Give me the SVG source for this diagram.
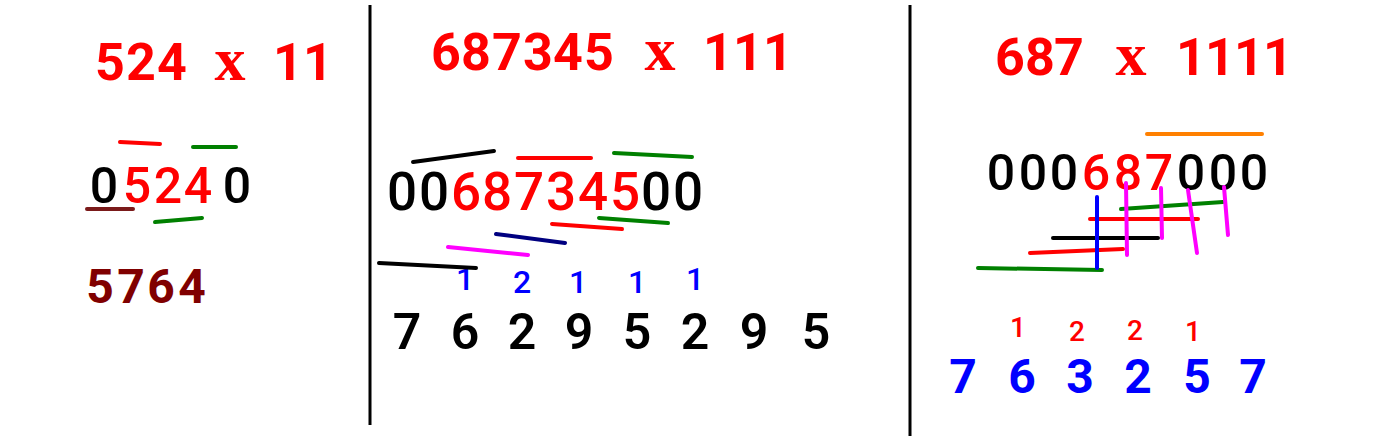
<svg xmlns="http://www.w3.org/2000/svg" width="1379" height="439" viewBox="0 0 1379 439">
<style>
.t{font-family:Roboto,"Liberation Sans",Arial,sans-serif;font-weight:bold;text-anchor:middle}
.x{font-family:"Liberation Serif","Times New Roman",serif;font-weight:bold;text-anchor:middle}
.n{font-family:Roboto,"Liberation Sans",Arial,sans-serif;font-weight:500;text-anchor:middle}
.s{stroke-width:4;stroke-linecap:round;fill:none}
.red{fill:#ff0000}.blk{fill:#000}.blu{fill:#0000ff}.drd{fill:#800000}
</style>
<rect width="1379" height="439" fill="#fff"/>
<g id="dividers" stroke="#000" stroke-width="3">
<line x1="370" y1="5" x2="370" y2="425"/>
<line x1="910" y1="5" x2="910" y2="436"/>
</g>
<g id="panel1">
<text class="t red" y="80" font-size="52"><tspan x="110">5</tspan><tspan x="141">2</tspan><tspan x="172">4</tspan></text>
<text class="x red" x="230" y="80" font-size="62">x</text>
<text class="t red" y="80" font-size="52"><tspan x="288">1</tspan><tspan x="318">1</tspan></text>
<text class="n" y="203" font-size="50"><tspan class="blk" x="104">0</tspan><tspan class="red" x="137">5</tspan><tspan class="red" x="168">2</tspan><tspan class="red" x="198">4</tspan><tspan class="blk" x="237">0</tspan></text>
<text class="t drd" y="303" font-size="48"><tspan x="100">5</tspan><tspan x="131">7</tspan><tspan x="161">6</tspan><tspan x="192">4</tspan></text>
</g>
<g id="panel2">
<text class="t red" y="70" font-size="52"><tspan x="446">6</tspan><tspan x="476">8</tspan><tspan x="507">7</tspan><tspan x="538">3</tspan><tspan x="568">4</tspan><tspan x="599">5</tspan></text>
<text class="x red" x="660" y="70" font-size="62">x</text>
<text class="t red" y="70" font-size="52"><tspan x="718">1</tspan><tspan x="748">1</tspan><tspan x="778">1</tspan></text>
<text class="n" y="210" font-size="53"><tspan class="blk" x="402">0</tspan><tspan class="blk" x="434">0</tspan><tspan class="red" x="466">6</tspan><tspan class="red" x="497">8</tspan><tspan class="red" x="529">7</tspan><tspan class="red" x="561">3</tspan><tspan class="red" x="593">4</tspan><tspan class="red" x="625">5</tspan><tspan class="blk" x="656">0</tspan><tspan class="blk" x="688">0</tspan></text>
<text class="n blu" font-size="32"><tspan x="465" y="290">1</tspan><tspan x="522" y="293">2</tspan><tspan x="578" y="293">1</tspan><tspan x="637" y="293">1</tspan><tspan x="695" y="290">1</tspan></text>
<text class="t blk" y="349" font-size="50" style="font-weight:600"><tspan x="407">7</tspan><tspan x="465">6</tspan><tspan x="522">2</tspan><tspan x="579">9</tspan><tspan x="637">5</tspan><tspan x="695">2</tspan><tspan x="754">9</tspan><tspan x="816">5</tspan></text>
</g>
<g id="panel3">
<text class="t red" y="75" font-size="52"><tspan x="1010">6</tspan><tspan x="1040">8</tspan><tspan x="1069">7</tspan></text>
<text class="x red" x="1131" y="75" font-size="62">x</text>
<text class="t red" y="75" font-size="52"><tspan x="1191">1</tspan><tspan x="1220">1</tspan><tspan x="1249">1</tspan><tspan x="1278">1</tspan></text>
<text class="n" y="190" font-size="50"><tspan class="blk" x="1001">0</tspan><tspan class="blk" x="1033">0</tspan><tspan class="blk" x="1064">0</tspan><tspan class="red" x="1096">6</tspan><tspan class="red" x="1128">8</tspan><tspan class="red" x="1159">7</tspan><tspan class="blk" x="1191">0</tspan><tspan class="blk" x="1223">0</tspan><tspan class="blk" x="1254">0</tspan></text>
<text class="n red" font-size="28"><tspan x="1018" y="337">1</tspan><tspan x="1077" y="341">2</tspan><tspan x="1135" y="340">2</tspan><tspan x="1193" y="341">1</tspan></text>
<text class="t blu" y="393" font-size="48"><tspan x="963">7</tspan><tspan x="1022">6</tspan><tspan x="1080">3</tspan><tspan x="1138">2</tspan><tspan x="1197">5</tspan><tspan x="1253">7</tspan></text>
</g>
<g id="connectors">
<line class="s" stroke="#ff0000" x1="120" y1="142" x2="160" y2="144"/>
<line class="s" stroke="#008000" x1="193" y1="147" x2="236" y2="147"/>
<line class="s" stroke="#7a1a1a" x1="87" y1="209" x2="133" y2="209"/>
<line class="s" stroke="#008000" x1="155" y1="222" x2="202" y2="218"/>
<line class="s" stroke="#000" x1="413" y1="162" x2="494" y2="151"/>
<line class="s" stroke="#ff0000" x1="518" y1="158" x2="591" y2="158"/>
<line class="s" stroke="#008000" x1="614" y1="153" x2="692" y2="157"/>
<line class="s" stroke="#008000" x1="599" y1="218" x2="668" y2="223"/>
<line class="s" stroke="#ff0000" x1="552" y1="224" x2="622" y2="229"/>
<line class="s" stroke="#000080" x1="496" y1="234" x2="565" y2="243"/>
<line class="s" stroke="#ff00ff" x1="448" y1="247" x2="528" y2="255"/>
<line class="s" stroke="#000" x1="379" y1="263" x2="476" y2="268"/>
<line class="s" stroke="#ff8000" x1="1147" y1="134" x2="1262" y2="134"/>
<line class="s" stroke="#008000" x1="978" y1="268" x2="1102" y2="270"/>
<line class="s" stroke="#ff0000" x1="1030" y1="253" x2="1123" y2="249"/>
<line class="s" stroke="#000" x1="1053" y1="238" x2="1158" y2="238"/>
<line class="s" stroke="#ff0000" x1="1090" y1="219" x2="1198" y2="219"/>
<line class="s" stroke="#008000" x1="1121" y1="209" x2="1223" y2="202"/>
<line class="s" stroke="#0000ff" x1="1097" y1="197" x2="1097" y2="268"/>
<line class="s" stroke="#ff00ff" x1="1126" y1="183" x2="1127" y2="255"/>
<line class="s" stroke="#ff00ff" x1="1161" y1="188" x2="1162" y2="238"/>
<line class="s" stroke="#ff00ff" x1="1188" y1="190" x2="1197" y2="253"/>
<line class="s" stroke="#ff00ff" x1="1224" y1="187" x2="1228" y2="235"/>
</g>
</svg>
